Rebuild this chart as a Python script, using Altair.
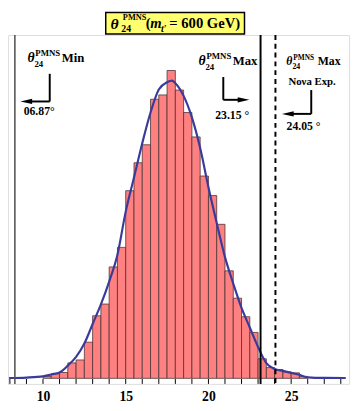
import altair as alt
import pandas as pd

# ---- data ----
bin_start = [10.0, 10.5, 11.0, 11.5, 12.0, 12.5, 13.0, 13.5, 14.0, 14.5, 15.0, 15.5,
             16.0, 16.5, 17.0, 17.5, 18.0, 18.5, 19.0, 19.5, 20.0, 20.5, 21.0, 21.5,
             22.0, 22.5, 23.0, 23.5, 24.0, 24.5, 25.0, 25.5]
counts = [20, 46, 60, 158, 188, 370, 640, 760, 1140, 1340, 1920, 2206,
          2390, 2856, 2900, 3150, 2950, 2720, 2470, 2070, 1870, 1576, 1100, 820,
          630, 470, 200, 110, 90, 66, 56, 20]
bin_width = 0.5

fit_x = [7.95, 9.0, 10.0, 10.5, 11.0, 11.5, 12.0, 12.5, 13.0, 13.5, 14.0, 14.5, 15.0,
         15.5, 16.0, 16.5, 17.0, 17.5, 17.8, 18.0, 18.5, 19.0, 19.5, 20.0, 20.5,
         21.0, 21.5, 22.0, 22.5, 23.0, 23.5, 24.0, 24.5, 25.0, 25.5, 26.0, 27.0, 28.3]
fit_y = [3, 8, 20, 40, 60, 130, 220, 356, 556, 756, 990, 1265, 1706,
         2056, 2406, 2720, 2956, 3030, 3046, 3020, 2890, 2670, 2356, 1956, 1590,
         1240, 970, 720, 520, 320, 156, 96, 76, 56, 36, 10, 4, 3]

line_min = [8.30]        # drawn position of the "Min" line
line_max = [23.15]
line_nova = [24.05]
tick_vals = list(range(8, 29))
label_vals = [10, 15, 20, 25]

x_domain = [7.885, 28.5]
y_domain = [-57, 3513]

W, H = 349, 357
FONT = "Liberation Serif"

bars = pd.DataFrame({"x": bin_start, "x2": [b + bin_width for b in bin_start], "c": counts})
fit = pd.DataFrame({"x": fit_x, "y": fit_y})

xs = alt.Scale(domain=x_domain, nice=False, zero=False)
ys = alt.Scale(domain=y_domain, nice=False, zero=False)

one = alt.InlineData(values=[{"k": 0}])

bar_layer = alt.Chart(bars).mark_bar(
    fill="#ff8080", stroke="#4a3535", strokeWidth=0.8, clip=True
).encode(
    x=alt.X("x:Q", scale=xs,
            axis=alt.Axis(values=label_vals, title=None, domain=False, ticks=False, grid=False,
                          labelFont=FONT, labelFontWeight="bold", labelFontSize=14,
                          labelColor="black", labelPadding=6)),
    x2="x2:Q",
    y=alt.Y("c:Q", scale=ys, axis=None),
    y2=alt.datum(0),
)

fit_layer = alt.Chart(fit).mark_line(
    color="#3a3a9a", strokeWidth=2.2, interpolate="monotone", clip=True
).encode(x=alt.X("x:Q", scale=xs), y=alt.Y("y:Q", scale=ys))

ticks = alt.Chart(pd.DataFrame({"t": tick_vals})).mark_rule(color="black", strokeWidth=1).encode(
    x=alt.X("t:Q", scale=xs), y=alt.value(H - 5), y2=alt.value(H)
)

vmin = alt.Chart(pd.DataFrame({"v": line_min})).mark_rule(color="#555555", strokeWidth=1.6).encode(
    x=alt.X("v:Q", scale=xs))
vmax = alt.Chart(pd.DataFrame({"v": line_max})).mark_rule(color="black", strokeWidth=2).encode(
    x=alt.X("v:Q", scale=xs))
vnova = alt.Chart(pd.DataFrame({"v": line_nova})).mark_rule(
    color="black", strokeWidth=2, strokeDash=[5, 4]).encode(x=alt.X("v:Q", scale=xs))

layers = [bar_layer, fit_layer, ticks, vmin, vmax, vnova]


def txt(s, px, py, size, italic=False):
    return alt.Chart(one).mark_text(
        text=s, font=FONT, fontWeight="bold", fontStyle="italic" if italic else "normal",
        fontSize=size, align="left", baseline="alphabetic", color="black"
    ).encode(x=alt.value(px), y=alt.value(py))


def seg(x1, y1, x2, y2):
    return alt.Chart(one).mark_rule(color="black", strokeWidth=2).encode(
        x=alt.value(x1), y=alt.value(y1), x2=alt.value(x2), y2=alt.value(y2))


LEFT = "M -1 0 L 1 -0.45 L 1 0.45 Z"
RIGHT = "M 1 0 L -1 -0.45 L -1 0.45 Z"


def head(shape, px, py):
    return alt.Chart(one).mark_point(shape=shape, filled=True, size=144, color="black",
                                     opacity=1, strokeWidth=0).encode(
        x=alt.value(px), y=alt.value(py))


# title box
layers.append(alt.Chart(one).mark_rect(fill="#ffff70", stroke="black", strokeWidth=1.5).encode(
    x=alt.value(100), x2=alt.value(242), y=alt.value(-23), y2=alt.value(-1)))
layers += [
    txt("θ", 105, -6.5, 16, True),
    txt("PMNS", 117.5, -15.5, 8.5),
    txt("24", 116, -3.5, 10),
    txt("(", 141, -7, 15),
    txt("m", 145.5, -7, 15, True),
    txt("t′", 156.5, -3.5, 10, True),
    txt("= 600 GeV)", 165, -7, 15),
]

# Min annotation
layers += [
    txt("θ", 20, 28, 14, True),
    txt("PMNS", 28, 21.5, 9),
    txt("24", 27, 33, 9),
    txt("Min", 55, 28, 13),
    seg(42.7, 39.7, 42.7, 68), seg(42.7, 68, 22, 68), head(LEFT, 18.7, 68),
    txt("06.87°", 16, 82, 12),
]

# Max annotation
layers += [
    txt("θ", 195, 30.7, 14, True),
    txt("PMNS", 203, 24.2, 9),
    txt("24", 202, 35.5, 9),
    txt("Max", 230, 30.7, 13),
    seg(220.3, 43, 220.3, 66.3), seg(220.3, 66.3, 240, 66.3), head(RIGHT, 241, 66.3),
    txt("23.15 °", 212, 85.7, 12),
]

# Nova annotation
layers += [
    txt("θ", 284.7, 30.7, 12, True),
    txt("PMNS", 292, 25.2, 7.5),
    txt("24", 291, 34.5, 8),
    txt("Max", 317, 30.7, 12),
    txt("Noνa Exp.", 287, 50.7, 11),
    seg(310.3, 56.3, 310.3, 80.7), seg(310.3, 80.7, 290, 80.7), head(LEFT, 286.3, 80.7),
    txt("24.05 °", 285, 97.3, 12),
]

chart = alt.layer(*layers).properties(
    width=W, height=H,
    autosize=alt.AutoSizeParams(type="none"),
    padding={"left": 0, "top": 23, "right": 3, "bottom": 20},
).configure_view(stroke="black", strokeWidth=1.5).configure(background="white")

chart.save("out.html", embed_options={"renderer": "svg", "actions": False})
